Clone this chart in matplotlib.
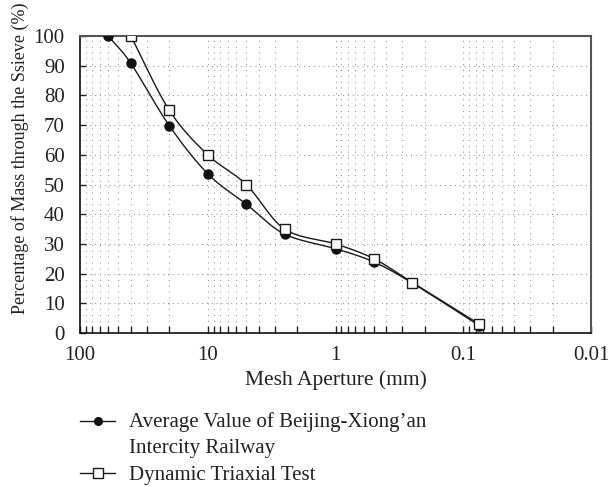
import numpy as np
import matplotlib
matplotlib.use("Agg")
import matplotlib.pyplot as plt
from matplotlib.lines import Line2D
from matplotlib.ticker import LogLocator, NullFormatter

plt.rcParams['font.family'] = ['Liberation Serif', 'DejaVu Serif']

# data
aperture_avg = [60, 40, 20, 10, 5, 2.5, 1, 0.5, 0.25, 0.075]
passing_avg = [100, 90.8, 69.8, 53.6, 43.4, 33.3, 28.4, 23.9, 16.8, 2.5]
aperture_test = [40, 20, 10, 5, 2.5, 1, 0.5, 0.25, 0.075]
passing_test = [100, 75, 60, 50, 35, 30, 25, 17, 3]
label_avg_lines = ["Average Value of Beijing-Xiong\u2019an", "Intercity Railway"]
label_test = "Dynamic Triaxial Test"
xticks = [100, 10, 1, 0.1, 0.01]
xticklabels = ["100", "10", "1", "0.1", "0.01"]
yticks = list(range(0, 101, 10))


def smooth(xs, ys, n=30):
    lx = np.log10(np.asarray(xs, float))
    y = np.asarray(ys, float)
    px = np.concatenate([[2 * lx[0] - lx[1]], lx, [2 * lx[-1] - lx[-2]]])
    py = np.concatenate([[2 * y[0] - y[1]], y, [2 * y[-1] - y[-2]]])
    outx, outy = [], []
    for i in range(1, len(px) - 2):
        t = np.linspace(0, 1, n)
        for arr, out in ((px, outx), (py, outy)):
            p0, p1, p2, p3 = arr[i - 1], arr[i], arr[i + 1], arr[i + 2]
            v = 0.5 * ((2 * p1) + (-p0 + p2) * t + (2 * p0 - 5 * p1 + 4 * p2 - p3) * t ** 2
                       + (-p0 + 3 * p1 - 3 * p2 + p3) * t ** 3)
            out.extend(v)
    return 10 ** np.array(outx), np.array(outy)


W, H = 608, 487
fig = plt.figure(figsize=(W / 100, H / 100), dpi=100)
ax = fig.add_axes([80 / W, 1 - 333 / H, (591 - 80) / W, (333 - 36) / H])

sx, sy = smooth(aperture_avg, passing_avg)
ax.plot(sx, sy, color='#1a1a1a', lw=1.0, zorder=3)
ax.plot(aperture_avg, passing_avg, ls='none', marker='o', ms=6.5, mfc='#111111', mec='#111111', zorder=4)
tx, ty = smooth(aperture_test, passing_test)
ax.plot(tx, ty, color='#1a1a1a', lw=1.0, zorder=3)
ax.plot(aperture_test, passing_test, ls='none', marker='s', ms=7.5, mfc='white', mec='#1a1a1a', mew=1.0, zorder=5)

ax.set_xscale('log')
ax.set_xlim(100, 0.01)
ax.set_ylim(0, 100)
ax.set_xticks(xticks)
ax.set_xticklabels(xticklabels)
ax.xaxis.set_minor_locator(LogLocator(base=10, subs=np.arange(2, 10)))
ax.xaxis.set_minor_formatter(NullFormatter())
ax.set_yticks(yticks)

ax.tick_params(axis='x', which='major', direction='in', length=5, width=1, labelsize=15, pad=9, colors='#222222')
ax.tick_params(axis='x', which='minor', direction='in', length=5, width=1, colors='#222222')
ax.tick_params(axis='y', which='major', direction='in', length=4, width=1, labelsize=15, pad=11, colors='#222222')

ax.grid(True, axis='y', which='major', color='#8a8a8a', lw=0.7, ls=(0, (1, 4)))
ax.grid(True, axis='x', which='both', color='#8a8a8a', lw=0.7, ls=(0, (1, 5)))

for s in ['left', 'bottom']:
    ax.spines[s].set_color('#111111')
    ax.spines[s].set_linewidth(1.2)
for s in ['top', 'right']:
    ax.spines[s].set_color('#555555')
    ax.spines[s].set_linewidth(1.5)

ax.set_xlabel("Mesh Aperture (mm)", fontsize=15.5, color='#222222', labelpad=4)
ax.set_ylabel("Percentage of Mass through the Ssieve (%)", fontsize=13, color='#222222', labelpad=3)
ax.yaxis.label.set_y(0.59)


def fx(px):
    return px / W


def fy(py):
    return 1 - py / H


legend_entries = [
    (label_avg_lines, dict(marker='o', ms=5.5, mfc='#111111', mec='#111111'), 421, [427, 453]),
    ([label_test], dict(marker='s', ms=6.5, mfc='white', mec='#1a1a1a'), 473, [480]),
]
for lines, mstyle, hy, baselines in legend_entries:
    fig.add_artist(Line2D([fx(80), fx(97.5), fx(115)], [fy(hy)] * 3, transform=fig.transFigure,
                          color='#1a1a1a', lw=1.0, markevery=[1], **mstyle))
    for txt, by in zip(lines, baselines):
        fig.text(fx(129), fy(by), txt, fontsize=15, color='#222222', ha='left', va='baseline')

fig.savefig("out.png", dpi=100)
